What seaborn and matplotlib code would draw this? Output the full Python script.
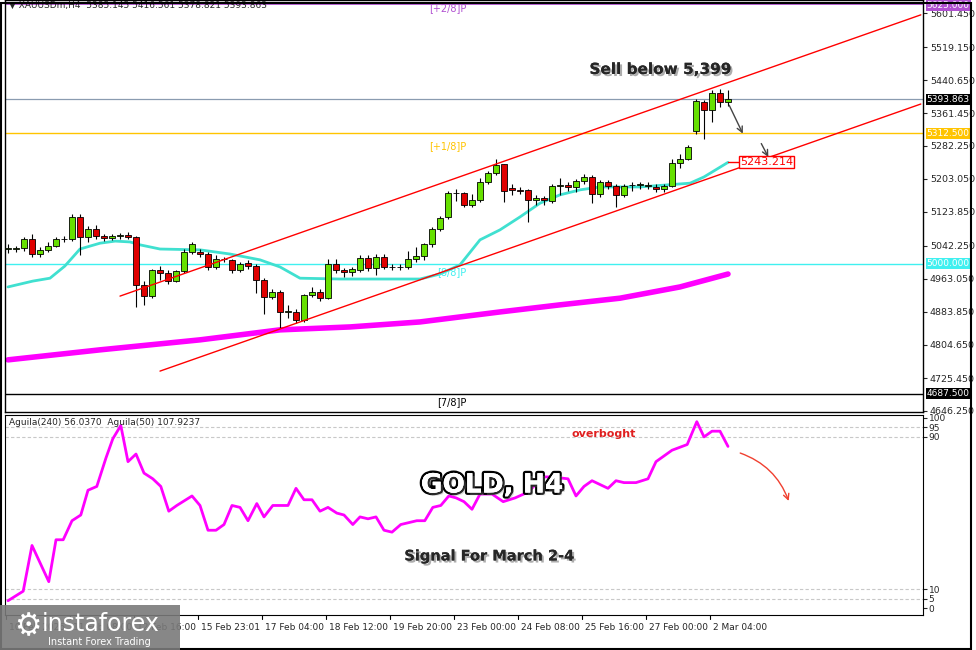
import numpy as np
import pandas as pd
import matplotlib
matplotlib.use("Agg")
import matplotlib.pyplot as plt
import matplotlib.patheffects as pe
from matplotlib.patches import FancyArrowPatch, Rectangle
import seaborn as sns

# candles (XAUUSDm, H4)
opens = [5035, 5035, 5037, 5059, 5023, 5033, 5043, 5058, 5059, 5113, 5063, 5084, 5066, 5061, 5066, 5068,
         5063, 4949, 4923, 4984, 4977, 4958, 4982, 5027, 5029, 5022, 4991, 5010, 5008, 4985, 5001, 4994,
         4960, 4921, 4932, 4884, 4884, 4864, 4924, 4933, 4917, 5000, 4984, 4979, 4984, 5013, 4989, 5017,
         4991, 4991, 4991, 5010, 5018, 5046, 5082, 5113, 5169, 5169, 5141, 5153, 5197, 5217, 5238, 5182,
         5177, 5176, 5153, 5157, 5150, 5187, 5189, 5183, 5198, 5208, 5167, 5195, 5187, 5165, 5188, 5189,
         5186, 5185, 5179, 5187, 5241, 5252, 5318, 5388, 5368, 5409, 5387]
closes = [5035, 5035, 5059, 5023, 5033, 5043, 5059, 5058, 5113, 5063, 5084, 5066, 5061, 5066, 5066, 5063,
          4949, 4923, 4984, 4977, 4958, 4982, 5027, 5046, 5022, 4991, 5010, 5010, 4985, 4998, 4994, 4960,
          4921, 4932, 4883, 4884, 4864, 4924, 4933, 4917, 5000, 4984, 4979, 4986, 5013, 4989, 5017, 4991,
          4991, 4991, 5010, 5018, 5046, 5082, 5109, 5169, 5169, 5141, 5153, 5197, 5217, 5236, 5174, 5177,
          5175, 5153, 5157, 5152, 5186, 5187, 5183, 5198, 5207, 5167, 5195, 5187, 5165, 5187, 5188, 5189,
          5186, 5179, 5187, 5241, 5252, 5280, 5390, 5369, 5409, 5387, 5394]
highs = [5048, 5042, 5065, 5072, 5040, 5052, 5064, 5066, 5120, 5118, 5090, 5092, 5072, 5072, 5074, 5075,
         5066, 4958, 4988, 4995, 4985, 4985, 5034, 5052, 5035, 5028, 5020, 5016, 5012, 5005, 5008, 5000,
         4966, 4940, 4936, 4900, 4890, 4928, 4945, 4940, 5010, 5010, 4990, 4992, 5020, 5020, 5022, 5022,
         5000, 4998, 5030, 5040, 5050, 5088, 5114, 5175, 5178, 5172, 5168, 5205, 5222, 5250, 5240, 5190,
         5185, 5180, 5165, 5162, 5192, 5205, 5195, 5204, 5215, 5212, 5200, 5200, 5190, 5192, 5195, 5197,
         5195, 5190, 5192, 5250, 5262, 5285, 5396, 5392, 5416, 5418, 5416]
lows = [5025, 5028, 5030, 5017, 5015, 5028, 5040, 5052, 5055, 5020, 5052, 5060, 5055, 5056, 5060, 5058,
        4895, 4900, 4918, 4960, 4950, 4955, 4978, 5022, 5015, 4985, 4988, 5005, 4978, 4980, 4988, 4930,
        4880, 4915, 4845, 4870, 4858, 4860, 4920, 4910, 4914, 4978, 4968, 4970, 4980, 4982, 4972, 4986,
        4985, 4984, 4986, 5004, 5008, 5040, 5078, 5108, 5150, 5135, 5135, 5148, 5190, 5212, 5148, 5165,
        5168, 5100, 5140, 5140, 5145, 5165, 5175, 5172, 5190, 5145, 5160, 5180, 5135, 5160, 5175, 5180,
        5178, 5172, 5172, 5183, 5230, 5248, 5310, 5300, 5340, 5375, 5379]

# moving averages (candle index, price)
ma_fast_idx = [0, 3.1, 5.25, 7.1, 9, 11.5, 13.4, 15.25, 16.5, 19, 24, 27.75, 31.5, 34, 36.5, 41.5, 51.5,
               54, 56.5, 59, 61.5, 64, 66.5, 69, 71.5, 74, 79, 85.25, 87, 90]
ma_fast_val = [4944, 4958, 4965, 4994, 5035, 5049, 5054, 5052, 5045, 5035, 5033, 5023, 5009, 4992, 4965,
               4963, 4963, 4975, 4997, 5057, 5081, 5112, 5145, 5165, 5177, 5184, 5184, 5193, 5208, 5243]
ma_slow_idx = [0, 11.5, 24, 34, 42.75, 51.5, 61.5, 69, 76.5, 84, 90]
ma_slow_val = [4769, 4793, 4817, 4841, 4848, 4860, 4884, 4901, 4917, 4944, 4975]

# channel lines (candle index, price)
upper_idx = [14, 114.1]
upper_val = [4922, 5597]
lower_idx = [19, 114.1]
lower_val = [4742, 5383]

# levels
last_price = 5393.863
lvl_p18 = 5312.5
lvl_p88 = 5000.0
lvl_p78 = 4687.5
lvl_p28 = 5625.0
ma_label = 5243.214
price_ticks = [5601.45, 5519.15, 5440.65, 5361.45, 5282.25, 5203.05, 5123.85, 5042.25, 4963.05,
               4883.85, 4804.65, 4725.45, 4646.25]

# oscillator (candle index, value)
osc_idx = [0, 1.9, 3, 5.1, 6, 6.9, 8, 9.1, 10, 11.1, 12.25, 13.1, 14.1, 15, 16, 17, 18.1, 19.1, 20.1,
           21.1, 23, 24, 25, 26, 27, 28, 29, 30, 31.1, 32, 33.1, 35, 36, 37, 38, 39, 40, 41.1, 42, 43.1,
           44, 45, 46, 47, 48, 49.1, 50.1, 51.1, 52.1, 53.1, 54.1, 55.1, 56, 57, 58, 59, 60.5, 61.9, 63.4,
           65, 66.9, 67.9, 70, 71, 72, 73, 75, 76, 77, 78.5, 80, 81, 83, 84.9, 86.1, 87, 88, 89, 90]
osc_val = [4, 9, 33, 14, 36, 36, 46, 49, 62, 64, 79, 89, 96, 77, 81, 71, 68, 64, 51, 54, 59, 54, 41, 41,
           44, 54, 53, 46, 55, 48, 54, 54, 63, 57, 57, 51, 53, 50, 49, 44, 48, 47, 48, 41, 40, 44, 45, 46,
           46, 53, 54, 59, 58, 56, 52, 60, 60, 56, 58, 61, 69, 69, 68, 59, 64, 67, 63, 67, 66, 66, 68, 77,
           83, 86, 98, 90, 93, 93, 85]
osc_grid = [95, 90, 10, 5]

date_pos = [-0.25, 7.75, 15.75, 23.75, 31.75, 39.75, 47.75, 55.75, 63.75, 71.75, 79.75, 87.75]
date_labels = ["10 Feb 2026", "11 Feb 08:00", "12 Feb 16:00", "15 Feb 23:01", "17 Feb 04:00",
               "18 Feb 12:00", "19 Feb 20:00", "23 Feb 00:00", "24 Feb 08:00", "25 Feb 16:00",
               "27 Feb 00:00", "2 Mar 04:00"]

sns.set_style("white")
plt.rcParams["font.family"] = ["DejaVu Sans"]

W, H = 976, 650
fig = plt.figure(figsize=(W / 100, H / 100), dpi=100)
ax = fig.add_axes([5 / W, 1 - 412 / H, (923 - 5) / W, 412 / H])
ax2 = fig.add_axes([5 / W, 1 - 615 / H, (923 - 5) / W, (615 - 415) / H])

xlim = (-3 / 8, (923 - 8) / 8)
ax.set_xlim(*xlim)
ax.set_ylim(5632.65 - 412 * 2.4, 5632.65)

# levels
ax.axhline(last_price, color="#8a9bb0", lw=0.9)
ax.axhline(lvl_p18, color="#ffc400", lw=1)
ax.axhline(lvl_p88, color="#40f0f0", lw=1)
ax.axhline(lvl_p78, color="black", lw=1)
ax.axhline(lvl_p28, color="#b050d0", lw=2)

# moving averages
sns.lineplot(x=ma_slow_idx, y=ma_slow_val, ax=ax, color="#ff00ff", lw=4, zorder=2)
sns.lineplot(x=ma_fast_idx, y=ma_fast_val, ax=ax, color="#40e0d0", lw=2, zorder=2)

# candles
idx = np.arange(len(opens))
o = np.array(opens); c = np.array(closes)
ax.vlines(idx, lows, highs, color="black", lw=0.8, zorder=3)
bull = c >= o
body = np.maximum(np.abs(c - o), 1.5)
ax.bar(idx[bull], body[bull], bottom=o[bull], width=0.65, color="#66e000", edgecolor="black", lw=0.6, zorder=4)
ax.bar(idx[~bull], body[~bull], bottom=c[~bull], width=0.65, color="#e00000", edgecolor="black", lw=0.6, zorder=4)

# channel
ax.plot(upper_idx, upper_val, color="red", lw=1, zorder=5, clip_on=False)
ax.plot(lower_idx, lower_val, color="red", lw=1, zorder=5, clip_on=False)

# axis labels on the right
ax.yaxis.tick_right()
ax.set_yticks(price_ticks)
ax.set_yticklabels([f"{t:.3f}" for t in price_ticks], fontsize=6.8)
ax.tick_params(axis="y", length=3, pad=2, direction="out", right=True)
ax.set_xticks([])
for sp in ax.spines.values():
    sp.set_color("black")
    sp.set_linewidth(1)

def price_box(val, txt, fc, tc):
    ax.text(1.004, val, txt, transform=ax.get_yaxis_transform(), fontsize=6.5, color=tc,
            va="center", ha="left", bbox=dict(boxstyle="square,pad=0.12", fc=fc, ec="none"), zorder=10)

price_box(last_price, "5393.863", "black", "white")
price_box(lvl_p18, "5312.500", "#ffc400", "white")
price_box(lvl_p88, "5000.000", "#40f0f0", "white")
price_box(lvl_p78, "4687.500", "black", "white")
price_box(lvl_p28 - 6, "5625.000", "#b050d0", "white")

ax.text(91.5, ma_label, "5243.214", fontsize=8, color="red", va="center", ha="left",
        bbox=dict(boxstyle="square,pad=0.1", fc="white", ec="red", lw=1), zorder=10)
ax.plot([90, 91.5], [ma_label, ma_label], color="red", lw=1, zorder=9)

ax.text(52.7, 5626, "[+2/8]P", color="#b050d0", fontsize=7, va="top")
ax.text(52.7, 5294, "[+1/8]P", color="#ffc400", fontsize=7, va="top")
ax.text(53.7, 4992, "[8/8]P", color="#40f0f0", fontsize=7, va="top")
ax.text(53.7, 4680, "[7/8]P", color="black", fontsize=7, va="top")
ax.text(0.004, 0.998, "\u25bc XAUUSDm,H4  5385.145 5416.561 5378.821 5393.863", transform=ax.transAxes,
        fontsize=6.5, va="top", ha="left")

shadow = [pe.withSimplePatchShadow(offset=(1.5, -1.5), shadow_rgbFace="#999999", alpha=0.8), pe.Normal()]
ax.text(81.5, 5466, "Sell below 5,399", fontsize=11, fontweight="bold", ha="center", va="center",
        path_effects=shadow)

for (x0, y0), (x1, y1) in [((90, 5386), (92, 5306)), ((94, 5294), (95.2, 5250))]:
    ax.add_patch(FancyArrowPatch((x0, y0), (x1, y1), arrowstyle="->", mutation_scale=10,
                                 color="#444444", lw=1, zorder=8))

# oscillator panel
ax2.set_xlim(*xlim)
ax2.set_ylim(-3.5, 98.5 + 3)
for g in osc_grid:
    ax2.axhline(g, color="#c8c8c8", lw=0.8, ls=(0, (3, 2)))
sns.lineplot(x=osc_idx, y=osc_val, ax=ax2, color="#ff00ff", lw=2)
ax2.yaxis.tick_right()
ax2.set_yticks([100, 95, 90, 10, 5, 0])
ax2.set_yticklabels(["100", "95", "90", "10", "5", "0"], fontsize=6.5)
ax2.tick_params(axis="y", length=3, pad=1, direction="out", right=True)
ax2.set_xticks([])
ax2.set_ylabel("")
for sp in ax2.spines.values():
    sp.set_color("black")
ax2.text(0.004, 0.985, "Aguila(240) 56.0370  Aguila(50) 107.9237", transform=ax2.transAxes,
         fontsize=6.5, va="top", ha="left")
ax2.text(74.5, 91.5, "overboght", color="#e02020", fontsize=8, fontweight="bold", ha="center", va="center")
ax2.text(60.5, 64.5, "GOLD, H4", color="white", fontsize=19, fontweight="bold", ha="center", va="center",
         path_effects=[pe.withStroke(linewidth=3.5, foreground="black"),
                       pe.withSimplePatchShadow(offset=(2, -2), shadow_rgbFace="#888888"), pe.Normal()])
ax2.text(60.2, 27.5, "Signal For March 2-4", fontsize=10.5, fontweight="bold", ha="center", va="center",
         path_effects=shadow)
ax2.add_patch(FancyArrowPatch((91.2, 82), (97.7, 55), connectionstyle="arc3,rad=-0.25",
                              arrowstyle="->", mutation_scale=10, color="#f04030", lw=1))

# date axis
for p, lab in zip(date_pos, date_labels):
    ax2.annotate(lab, xy=(p, 0), xycoords=("data", "axes fraction"), xytext=(2, -9),
                 textcoords="offset points", fontsize=6.5, ha="left", va="center", annotation_clip=False)
    ax2.plot([p, p], [0, -0.02], transform=ax2.get_xaxis_transform(), color="black", lw=0.8, clip_on=False)

# outer frame and logo
fig.patches.append(Rectangle((1 / W, 1 / H), 970 / W, 646 / H, transform=fig.transFigure,
                             fill=False, ec="black", lw=1.5))
fig.patches.append(Rectangle((0, 0), 180 / W, 45 / H, transform=fig.transFigure,
                             fc="#7a7a7a", ec="none", alpha=0.9, zorder=20))
fig.text(14 / W, 1 - 627 / H, "\u2699", fontsize=22, color="white", va="center", ha="left", zorder=21)
fig.text(42 / W, 1 - 624 / H, "instaforex", fontsize=17, color="white", va="center", ha="left", zorder=21)
fig.text(48 / W, 1 - 642 / H, "Instant Forex Trading", fontsize=7, color="white", va="center", ha="left",
         zorder=21)

fig.savefig("out.png", dpi=100)
